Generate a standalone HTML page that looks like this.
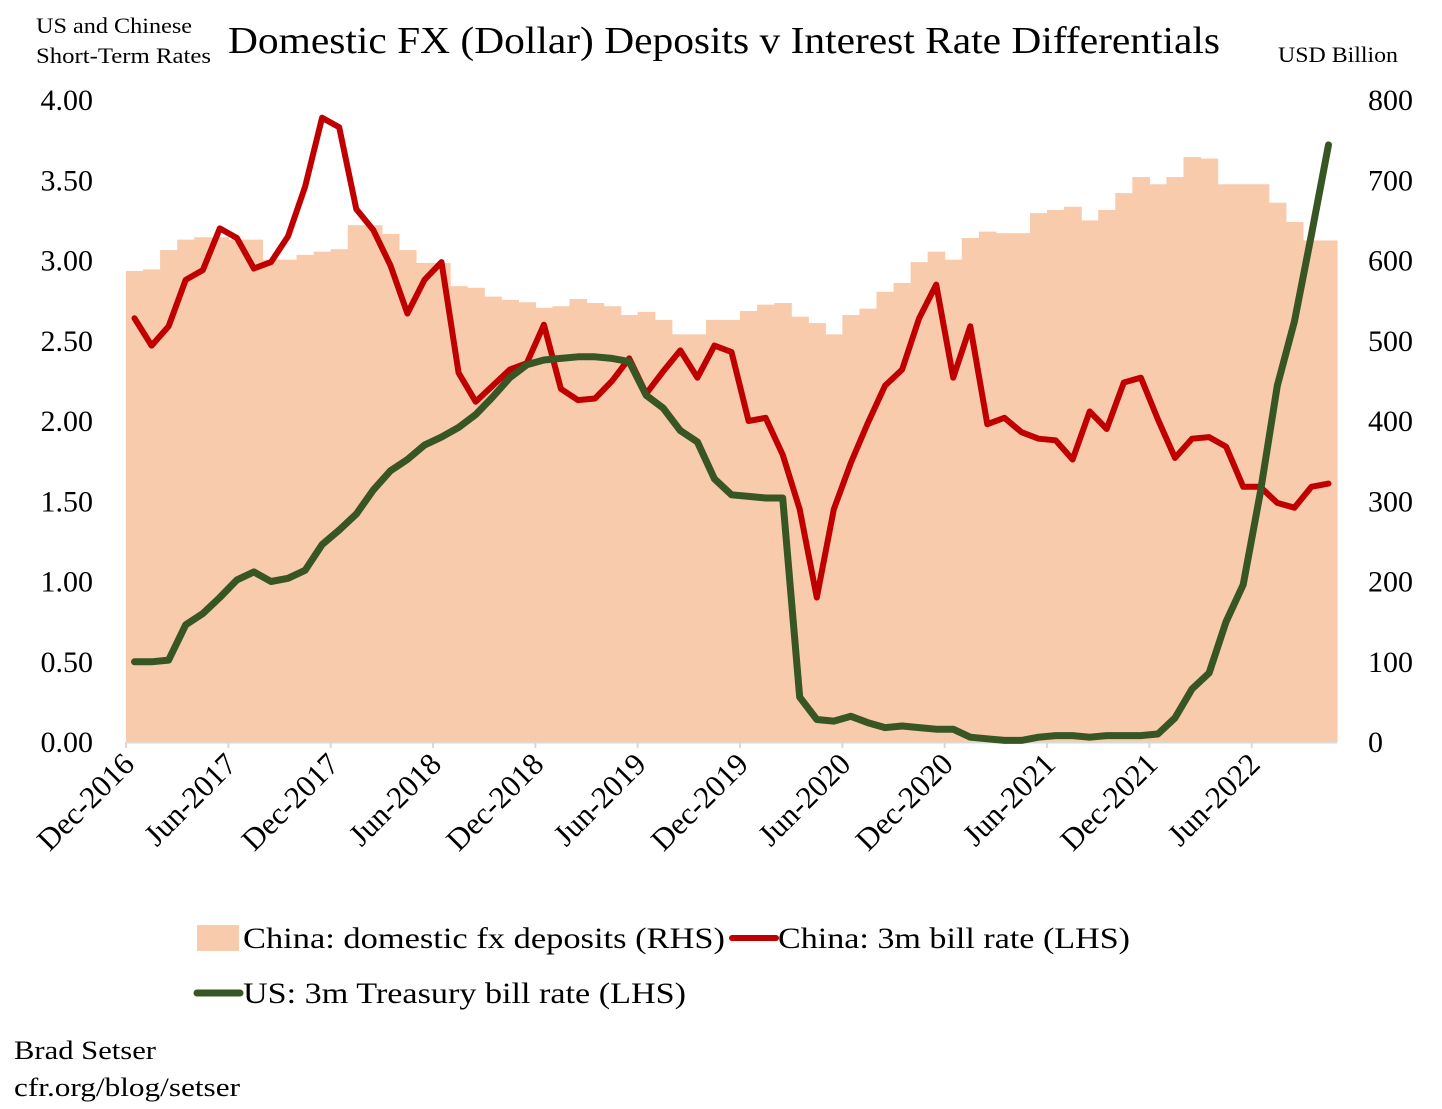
<!DOCTYPE html>
<html><head><meta charset="utf-8"><style>
html,body{margin:0;padding:0;background:#fff;}
svg{display:block;font-family:"Liberation Serif",serif;}
</style></head><body>
<svg id="chart" width="1442" height="1109" viewBox="0 0 1442 1109">
<text x="36" y="33" font-size="22" textLength="156" lengthAdjust="spacingAndGlyphs">US and Chinese</text>
<text x="36" y="63" font-size="22" textLength="175" lengthAdjust="spacingAndGlyphs">Short-Term Rates</text>
<text x="228" y="53" font-size="38" textLength="992" lengthAdjust="spacingAndGlyphs">Domestic FX (Dollar) Deposits v Interest Rate Differentials</text>
<text x="1278" y="62" font-size="22" textLength="120" lengthAdjust="spacingAndGlyphs">USD Billion</text>
<g id="bars"></g>
<line x1="126" y1="742.5" x2="1337" y2="742.5" stroke="#d9d9d9" stroke-width="2"/>
<g id="ticks"></g>
<g id="lines"></g>
<g id="legend">
<rect x="197" y="925" width="42" height="26" fill="#f8cbad"/>
<text x="243" y="948" font-size="30" textLength="482" lengthAdjust="spacingAndGlyphs">China: domestic fx deposits (RHS)</text>
<line x1="732" y1="938" x2="776" y2="938" stroke="#c00000" stroke-width="6" stroke-linecap="round"/>
<text x="778" y="948" font-size="30" textLength="352" lengthAdjust="spacingAndGlyphs">China: 3m bill rate (LHS)</text>
<line x1="197" y1="993" x2="240" y2="993" stroke="#375623" stroke-width="7" stroke-linecap="round"/>
<text x="243" y="1003" font-size="30" textLength="443" lengthAdjust="spacingAndGlyphs">US: 3m Treasury bill rate (LHS)</text>
</g>
<text x="14" y="1059" font-size="26" textLength="142" lengthAdjust="spacingAndGlyphs">Brad Setser</text>
<text x="14" y="1096" font-size="26" textLength="226" lengthAdjust="spacingAndGlyphs">cfr.org/blog/setser</text>
</svg>
<script>
const startYear = 2016, startMonth = 11; // Dec 2016
const deposits = [587,589,613,626,629,629,626,626,601,601,607,611,614,644,644,633,613,597,597,568,566,555,551,548,541,543,552,547,543,532,536,526,508,508,526,526,537,545,547,530,522,508,532,540,561,572,598,611,601,628,636,634,634,659,663,667,650,663,684,704,695,704,729,727,695,695,695,672,648,625,625];
const chinaRate = [2.64,2.47,2.59,2.88,2.94,3.20,3.14,2.95,2.99,3.15,3.46,3.89,3.83,3.32,3.19,2.97,2.67,2.88,2.99,2.30,2.12,2.22,2.32,2.36,2.60,2.20,2.13,2.14,2.25,2.39,2.17,2.31,2.44,2.27,2.47,2.43,2.00,2.02,1.79,1.45,0.90,1.45,1.74,1.99,2.22,2.32,2.64,2.85,2.27,2.59,1.98,2.02,1.93,1.89,1.88,1.76,2.06,1.95,2.24,2.27,2.01,1.77,1.89,1.90,1.84,1.59,1.59,1.49,1.46,1.59,1.61];
const usRate = [0.50,0.50,0.51,0.73,0.80,0.90,1.01,1.06,1.00,1.02,1.07,1.23,1.32,1.42,1.57,1.69,1.76,1.85,1.90,1.96,2.04,2.15,2.27,2.35,2.38,2.39,2.40,2.40,2.39,2.37,2.16,2.08,1.94,1.87,1.64,1.54,1.53,1.52,1.52,0.28,0.14,0.13,0.16,0.12,0.09,0.10,0.09,0.08,0.08,0.03,0.02,0.01,0.01,0.03,0.04,0.04,0.03,0.04,0.04,0.04,0.05,0.15,0.33,0.43,0.75,0.98,1.55,2.22,2.62,3.16,3.72];
const leftTicks = ["0.00","0.50","1.00","1.50","2.00","2.50","3.00","3.50","4.00"];
const rightTicks = ["0","100","200","300","400","500","600","700","800"];
const xLabels = ["Dec-2016","Jun-2017","Dec-2017","Jun-2018","Dec-2018","Jun-2019","Dec-2019","Jun-2020","Dec-2020","Jun-2021","Dec-2021","Jun-2022"];

const NS="http://www.w3.org/2000/svg";
const X0=126, X1=1337, Y0=742, Ytop=100, n=deposits.length;
const bw=(X1-X0)/n;
const xc=i=>X0+bw*(i+0.5);
const yL=v=>Y0-(v/4)*(Y0-Ytop);
const yR=v=>Y0-(v/800)*(Y0-Ytop);
function mk(tag,attrs,parent){const e=document.createElementNS(NS,tag);for(const k in attrs)e.setAttribute(k,attrs[k]);parent.appendChild(e);return e;}
const bars=document.getElementById('bars');
deposits.forEach((v,i)=>{
  const r=mk('rect',{x:(X0+bw*i).toFixed(2),y:yR(v).toFixed(2),width:(bw+0.6).toFixed(2),height:(Y0-yR(v)).toFixed(2),fill:'#f8cbad'},bars);
  
  
});
const ticks=document.getElementById('ticks');
leftTicks.forEach((t,i)=>{
  const e=mk('text',{x:93,y:yL(parseFloat(t))+10,'font-size':30,'text-anchor':'end'},ticks);
  e.textContent=t;
  
  
});
rightTicks.forEach((t,i)=>{
  const e=mk('text',{x:1368,y:yR(parseFloat(t))+10,'font-size':30},ticks);
  e.textContent=t;
  
  
});
xLabels.forEach((t,k)=>{
  const x=X0+bw*6*k;
  const tk=mk('line',{x1:x,y1:Y0,x2:x,y2:Y0+6,stroke:'#d9d9d9','stroke-width':2},ticks);
  
  
  const e=mk('text',{x:x+10,y:Y0+24,'font-size':31,'text-anchor':'end',transform:`rotate(-45 ${x+10} ${Y0+24})`},ticks);
  e.textContent=t;
  
  
});
const lines=document.getElementById('lines');
const p1=mk('polyline',{points:chinaRate.map((v,i)=>xc(i).toFixed(1)+','+yL(v).toFixed(1)).join(' '),fill:'none',stroke:'#c00000','stroke-width':6,'stroke-linejoin':'round','stroke-linecap':'round'},lines);


const p2=mk('polyline',{points:usRate.map((v,i)=>xc(i).toFixed(1)+','+yL(v).toFixed(1)).join(' '),fill:'none',stroke:'#375623','stroke-width':7,'stroke-linejoin':'round','stroke-linecap':'round'},lines);


</script>
</body></html>
